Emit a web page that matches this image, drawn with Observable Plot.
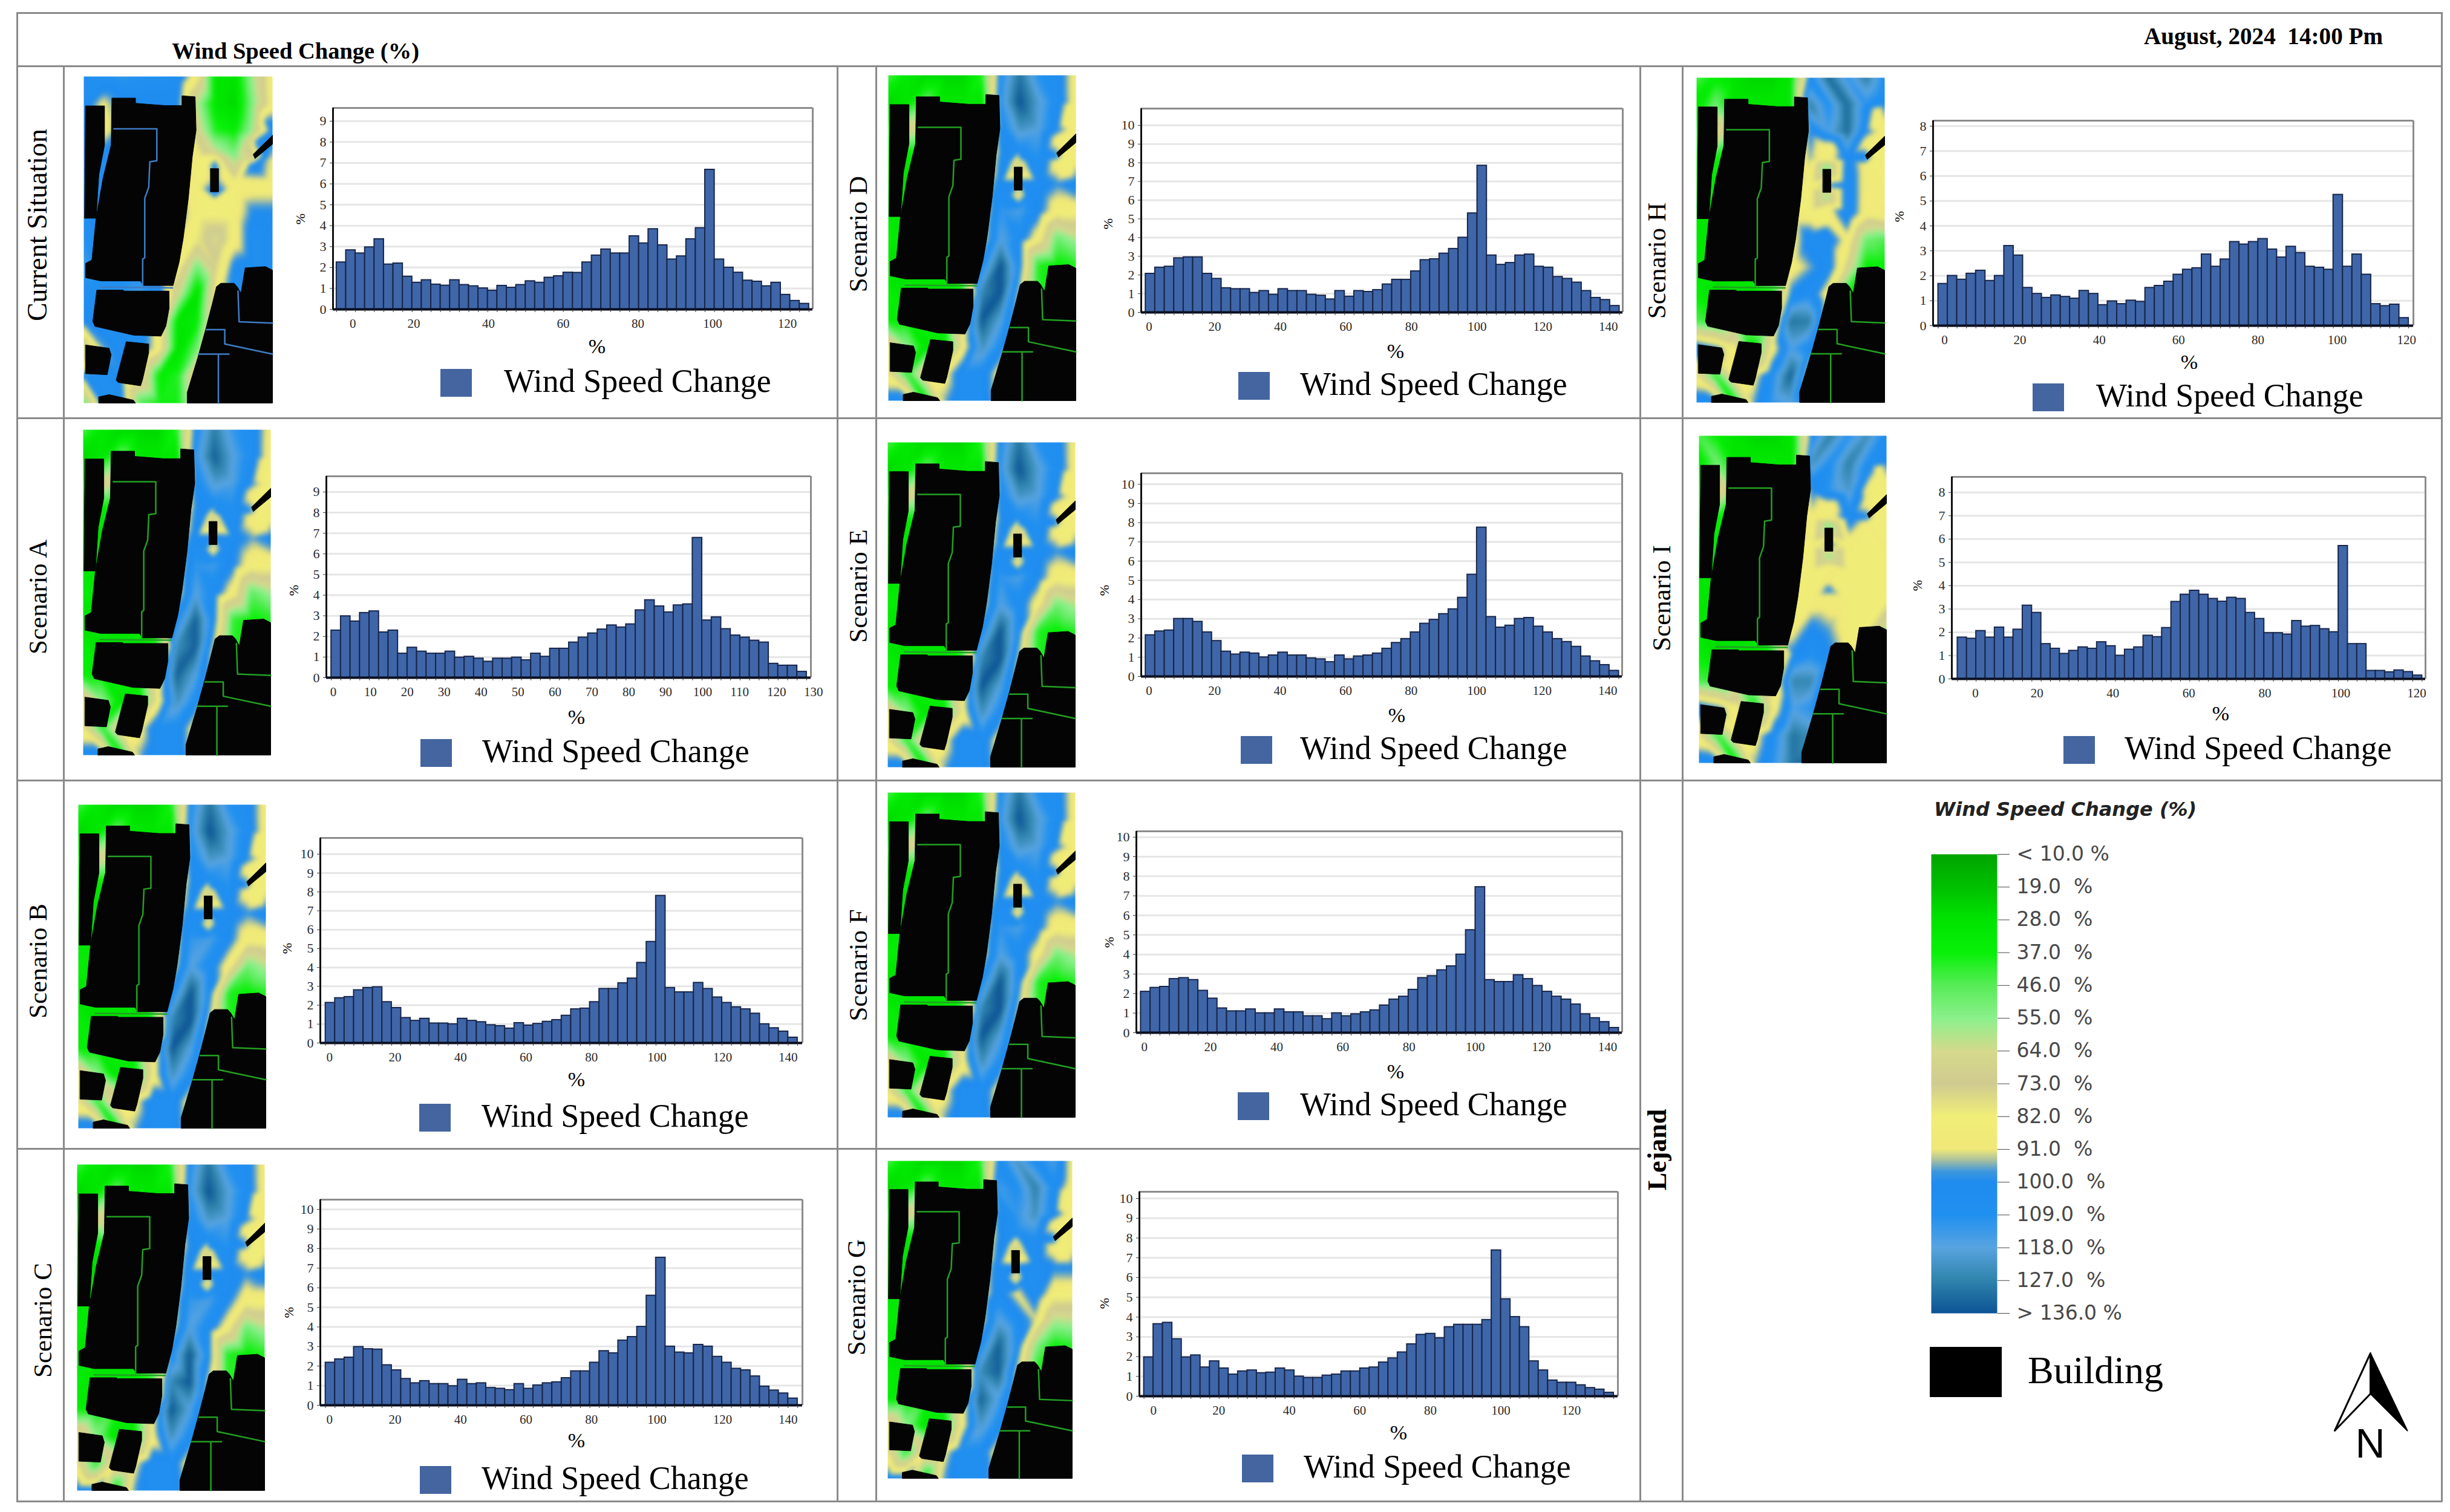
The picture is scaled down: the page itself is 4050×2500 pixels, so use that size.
<!DOCTYPE html>
<html><head><meta charset="utf-8">
<script src="https://cdn.jsdelivr.net/npm/d3@7"></script>
<script src="https://cdn.jsdelivr.net/npm/@observablehq/plot@0.6"></script>
<style>
html,body{margin:0;padding:0;background:#fff}
#page{position:relative;width:4050px;height:2500px;overflow:hidden;background:#fff;font-family:"Liberation Serif",serif;color:#000}
#page>svg{position:absolute;overflow:visible}
.h,.v,.sw,.t{position:absolute}
.h{height:3px;background:#8a8a8a}.v{width:3px;background:#8a8a8a}
.t{white-space:pre;line-height:1}
</style></head><body><div id="page"></div>
<script>
// ---------- histogram values (% of area per bin) ----------
const currentValues=[2.25,2.83,2.68,2.97,3.36,2.15,2.2,1.57,1.28,1.4,1.19,1.14,1.4,1.17,1.11,1.01,0.9,1.13,1.04,1.17,1.35,1.28,1.52,1.59,1.76,1.75,2.25,2.58,2.87,2.68,2.68,3.5,3.16,3.84,3.07,2.39,2.54,3.36,3.89,6.68,2.39,2.0,1.76,1.38,1.33,1.11,1.28,0.7,0.41,0.27];
const scenarioA=[2.29,2.98,2.73,3.14,3.22,2.2,2.29,1.17,1.46,1.27,1.17,1.17,1.27,0.98,1.02,0.93,0.78,0.93,0.93,0.98,0.85,1.17,1.02,1.41,1.41,1.71,1.95,2.15,2.34,2.54,2.44,2.59,3.27,3.76,3.46,3.17,3.51,3.56,6.78,2.78,2.93,2.36,2.05,1.95,1.8,1.71,0.68,0.59,0.59,0.29];
const scenarioB=[2.13,2.38,2.44,2.8,2.92,2.96,2.17,1.86,1.33,1.18,1.29,1.04,1.04,1.0,1.29,1.18,1.11,0.95,0.9,0.77,1.06,0.93,1.02,1.13,1.22,1.45,1.79,1.83,2.17,2.87,2.87,3.17,3.42,4.25,5.36,7.8,2.92,2.69,2.69,3.19,2.87,2.42,2.13,1.9,1.79,1.56,1.0,0.79,0.61,0.29];
const scenarioC=[2.18,2.35,2.44,2.98,2.87,2.85,2.05,1.79,1.35,1.13,1.24,1.09,1.09,0.98,1.31,1.09,1.13,0.89,0.85,0.78,1.09,0.85,1.02,1.13,1.18,1.39,1.74,1.74,2.18,2.77,2.66,3.31,3.49,4.01,5.6,7.54,3.0,2.7,2.66,3.09,3.0,2.48,2.18,1.87,1.79,1.48,0.96,0.76,0.61,0.35];
const scenarioD=[2.07,2.4,2.45,2.9,2.95,2.95,2.07,1.8,1.3,1.25,1.25,1.05,1.15,0.95,1.25,1.15,1.15,0.95,0.9,0.7,1.15,0.85,1.15,1.1,1.2,1.5,1.75,1.75,2.2,2.8,2.85,3.15,3.4,4.0,5.3,7.85,3.05,2.55,2.65,3.05,3.1,2.45,2.4,1.9,1.8,1.6,1.15,0.78,0.67,0.35];
const scenarioE=[2.15,2.35,2.4,3.0,3.0,2.85,2.3,1.85,1.3,1.15,1.25,1.2,1.0,1.1,1.25,1.1,1.1,0.95,0.9,0.75,1.1,0.9,1.05,1.1,1.2,1.45,1.75,1.95,2.3,2.75,2.95,3.25,3.5,4.1,5.3,7.75,3.1,2.55,2.65,3.0,3.05,2.6,2.3,1.95,1.8,1.55,1.05,0.8,0.6,0.3];
const scenarioF=[2.1,2.3,2.35,2.75,2.8,2.7,2.15,1.75,1.25,1.1,1.1,1.2,1.0,1.0,1.2,1.05,1.05,0.85,0.85,0.7,1.0,0.85,0.95,1.05,1.15,1.4,1.7,1.85,2.2,2.8,2.9,3.2,3.4,4.0,5.25,7.45,2.7,2.6,2.6,2.95,2.75,2.4,2.1,1.85,1.7,1.45,0.95,0.75,0.55,0.25];
const scenarioG=[1.97,3.65,3.72,2.89,1.97,2.07,1.46,1.77,1.41,1.1,1.26,1.31,1.17,1.2,1.41,1.31,1.0,0.93,0.93,1.05,1.1,1.26,1.26,1.41,1.46,1.71,1.92,2.22,2.63,3.11,3.16,2.94,3.5,3.62,3.62,3.62,3.86,7.38,4.91,4.01,3.5,1.77,1.31,0.8,0.69,0.69,0.56,0.42,0.34,0.18];
const scenarioH=[1.68,2.0,1.85,2.09,2.21,1.8,2.0,3.2,2.82,1.52,1.28,1.12,1.22,1.16,1.09,1.4,1.28,0.83,0.98,0.87,1.01,0.96,1.52,1.6,1.77,2.05,2.25,2.31,2.86,2.37,2.66,3.36,3.26,3.36,3.48,3.06,2.74,3.17,2.92,2.37,2.33,2.25,5.25,2.37,2.86,2.05,0.87,0.79,0.85,0.31];
const scenarioI=[1.78,1.73,2.06,1.78,2.21,1.78,2.12,3.15,2.84,1.5,1.3,1.08,1.21,1.36,1.3,1.58,1.41,1.0,1.26,1.36,1.86,1.8,2.19,3.31,3.62,3.79,3.62,3.44,3.32,3.49,3.44,2.84,2.58,1.97,1.97,1.91,2.49,2.25,2.28,2.14,2.01,5.71,1.5,1.5,0.35,0.35,0.29,0.37,0.3,0.15];

// ---------- x tick labels ----------
const ticks20=[0,20,40,60,80,100,120];
const ticks140=[0,20,40,60,80,100,120,140];
const ticks130=[0,10,20,30,40,50,60,70,80,90,100,110,120,130];

// ---------- colour scale of the wind maps ----------
const rampStops=[10,19,28,37,46,55,64,73,82,91,94,97,100,109,118,127,136];
const rampColors=["#00a400","#00c000","#00e400","#08f008","#58ec58","#8cf08c","#d6d98c","#cfcb90","#f0ee78","#f0e878","#a8c0a0","#3f98dc","#1f8cf0","#2090f0","#58a4e0","#2f84ac","#0c5496"];
const legendTicks=[10,19,28,37,46,55,64,73,82,91,100,109,118,127,136];
const legendLabels=["< 10.0 %","19.0  %","28.0  %","37.0  %","46.0  %","55.0  %","64.0  %","73.0  %","82.0  %","91.0  %","100.0  %","109.0  %","118.0  %","127.0  %","> 136.0 %"];

// ---------- wind fields: 11 columns x 13 rows of sampled wind speed change (%) ----------
const fieldCurrent=[
[105,110,112,110,108,106,84,30,28,60,86],
[105,90,100,100,100,100,60,30,25,55,85],
[105,86,100,100,100,100,70,40,35,60,105],
[105,105,100,100,100,100,85,85,55,70,90],
[105,105,105,105,105,95,86,100,84,86,86],
[105,105,105,105,105,100,85,84,86,100,100],
[110,105,105,105,100,92,80,65,86,106,105],
[115,105,105,105,100,84,50,75,102,106,105],
[105,105,110,115,105,65,28,84,105,106,106],
[100,105,105,105,86,30,35,85,105,105,105],
[60,95,105,105,86,28,50,95,105,105,105],
[100,108,100,84,35,40,84,100,105,105,105],
[45,105,105,45,38,38,75,100,105,105,105]];
const fieldBase=[
[45,32,25,25,25,40,108,130,110,105,86],
[25,30,50,30,30,30,112,136,120,106,86],
[40,70,60,40,40,60,104,122,118,100,86],
[30,30,40,40,40,72,100,108,110,100,87],
[30,25,30,30,40,84,104,105,106,98,104],
[30,30,30,30,40,84,112,116,102,85,86],
[35,30,30,30,50,86,118,105,86,50,60],
[28,30,30,30,60,105,136,105,40,35,40],
[35,28,28,28,40,126,136,92,40,40,40],
[35,35,40,40,84,136,118,86,40,40,40],
[84,55,30,30,84,124,106,85,40,40,40],
[80,40,84,87,108,106,86,40,40,40,40],
[105,105,30,95,108,106,90,40,40,40,40]];
const fieldA=[
[45,32,25,25,25,40,106,128,112,106,86],
[25,30,50,30,30,30,112,134,118,106,85],
[40,70,60,40,40,62,104,120,116,98,85],
[30,30,40,40,40,74,100,106,108,98,86],
[30,25,30,30,40,85,104,105,104,96,102],
[30,30,30,30,40,85,112,114,100,85,85],
[35,30,30,30,50,86,118,104,86,48,58],
[28,30,30,30,60,106,134,102,42,36,40],
[35,28,28,28,40,124,134,90,40,40,40],
[35,35,40,40,84,134,118,86,40,40,40],
[84,55,30,30,84,124,106,85,40,40,40],
[80,40,84,87,108,106,86,40,40,40,40],
[105,105,30,95,108,106,90,40,40,40,40]];
const fieldG=[
[45,32,25,25,25,40,105,122,106,116,86],
[25,30,50,30,30,30,114,108,128,106,85],
[40,70,60,40,40,62,102,112,124,104,85],
[30,30,40,40,40,72,100,88,108,102,87],
[30,25,30,30,40,84,104,100,108,100,100],
[30,30,30,30,40,85,104,90,106,85,85],
[35,30,30,30,50,86,118,106,92,60,62],
[28,30,30,30,60,105,134,108,55,36,40],
[35,28,28,28,40,124,134,92,40,40,40],
[35,35,40,40,84,134,116,86,40,40,40],
[84,55,30,30,84,122,106,85,40,40,40],
[80,40,84,87,108,106,86,40,40,40,40],
[105,105,30,95,108,106,90,40,40,40,40]];
const fieldH=[
[45,35,28,25,25,30,105,132,112,128,108],
[30,50,30,30,30,30,128,108,132,110,100],
[40,84,50,40,40,50,100,115,132,100,86],
[35,35,40,40,40,60,95,86,105,105,84],
[30,30,35,35,50,75,86,100,108,86,86],
[30,30,35,40,60,85,85,85,108,85,90],
[30,30,35,40,65,84,105,105,88,50,45],
[30,30,30,40,70,86,95,105,75,35,35],
[35,25,28,28,35,100,108,84,35,35,35],
[45,40,60,60,70,130,128,86,40,40,40],
[110,100,84,30,84,116,105,85,40,40,40],
[80,40,84,87,108,134,86,40,40,40,40],
[108,105,30,95,112,118,105,40,40,40,40]];
const fieldI=[
[45,35,28,25,25,30,105,128,110,124,105],
[30,50,30,30,30,30,124,108,128,108,100],
[40,84,50,40,40,55,100,112,122,86,85],
[35,35,40,40,40,65,90,86,105,100,85],
[30,30,35,35,60,85,85,100,86,85,86],
[30,30,35,40,70,85,85,90,85,85,85],
[30,30,35,40,75,86,85,85,85,85,84],
[30,30,30,40,84,86,100,95,85,84,60],
[35,25,28,28,40,100,108,100,84,45,45],
[45,40,60,60,75,126,126,86,50,40,40],
[110,100,84,35,84,116,110,85,40,40,40],
[80,40,84,87,108,130,124,86,40,40,40],
[108,105,30,95,112,130,134,100,40,40,40]];

// extra samples [x %, y %, wind speed change %] around the pillar and the diagonal building
const detailCurrent=[[69.3,27,105],[69.3,24.5,85],[69.3,22,60],[65,28,84],[73.5,28,84],[69.3,36,108],[69.3,38,85],[90,27,105],[96,24,105],[92,20,105],[97,14,100],[94,12,84],[88,21,75]];
const detailScenario=[[69.3,22.5,108],[65,26,105],[73.5,26,105],[69.3,25,86],[69.3,27.5,60],[69.3,36,60],[69.3,38,86],[69.3,40,106],[65,37,105],[73.5,37,105],[90,27,86],[94,30,86],[98,29,85],[95,24,85],[90,20,86],[94,14,86],[96,10,86],[92,10,100]];
const detailH=[[69.3,27.5,50],[69.3,25,86],[67,21,87],[72,21,87],[69.3,18,105],[69.3,36.5,55],[69.3,40,86],[66,44,85],[72,44,85],[69,47,100],[90,27,86],[94,30,86],[98,29,85],[95,24,85],[90,20,86],[94,14,86],[96,10,86],[92,10,100]];

// ---------- building footprints, in % of map width / height ----------
const buildings=[
[[1,9],[11,9],[11,21],[8,30],[6.5,43.4],[0.5,43.4]],
[[15,6.6],[27.4,6.6],[27.4,8.2],[43,8.9],[52,8.9],[52,5.9],[59,6.2],[59.5,16.4],[57.5,24.5],[55.4,37.3],[52.7,49.5],[50.5,56.9],[47.3,64],[31.7,64],[30,62.6],[9,62.6],[1,61.6],[1,57.2],[4.3,56.2],[6.5,43.4],[10.2,31.2],[14.5,21]],
[[7,65.4],[20.9,65.4],[21.5,65.7],[45.2,65.7],[45.2,71],[43.5,76.4],[40.9,79.5],[26.4,79.2],[5.9,76.5],[4.8,75.1]],
[[1,82.2],[13.4,83.2],[14.5,85.2],[12.4,91.3],[1,91]],
[[22.6,81.2],[34.4,81.9],[34.4,84.6],[31.2,92.7],[30.1,94.7],[18.3,93.7],[17.2,93]],
[[8,98.1],[13.4,97.4],[26.3,99.1],[27.4,100],[8,100]],
[[70.4,64.3],[72.6,63.3],[79.6,63.3],[81.2,64.3],[83.3,66.4],[85.5,58.6],[96.2,58.2],[100,59.3],[100,100],[54.8,100],[54.8,96.8],[60.8,85.3],[65,76.5],[68.3,69.1]],
[[89.8,23.8],[100,18],[100,20.7],[90.8,25.1]],
[[67.2,28.2],[71.4,28.2],[71.4,35.3],[67.2,35.3]]];
const buildingSeams=[
[[16,16],[38.7,16],[38.7,25.8],[35,26.1],[34.4,33.9],[32.3,37.3],[32.3,55.5],[31.2,55.9],[31.2,64]],
[[9,64.5],[47,64.7]],
[[81.7,65.7],[82.3,75.1],[100,75.5]],
[[65,77.5],[74.7,77.5],[74.7,81.9],[100,85]],
[[60.8,85],[76.9,85]],
[[71.3,85.3],[71.3,100]]];

// ---------- north arrow outline ----------
const arrowLeft=[[0,128],[59,0],[59,67]];
const arrowRight=[[59,0],[120,128],[59,67]];

// ---------- panels ----------
const panels=[
{name:"Current Situation",values:currentValues,field:fieldCurrent,detail:detailCurrent,seam:"#3f7cc4",binStart:-0.65,binWidth:2.529,xDomain:[-1.6,126.8],yMax:9.63,xLabels:ticks20,xLabelAt:[3.7,20,40,60,80,100,120],
 frame:[550,1343,178,511],map:[138,450,126,666],label:[62,372],labelSize:46,xTitle:[987,573],yTitle:[497,362],swatch:[728,610],legendX:833},
{name:"Scenario A",values:scenarioA,field:fieldA,detail:detailScenario,seam:"#22a022",binStart:-0.56,binWidth:2.574,xDomain:[-1.9,129.3],yMax:9.76,xLabels:ticks130,
 frame:[539,1340,787,1120],map:[137,447,710,1248],label:[62,987],xTitle:[953,1186],yTitle:[486,976],swatch:[695,1222],legendX:797},
{name:"Scenario B",values:scenarioB,field:fieldBase,detail:detailScenario,seam:"#22a022",binStart:-1.2,binWidth:2.882,xDomain:[-2.8,144.4],yMax:10.86,xLabels:ticks140,
 frame:[529,1326,1385,1724],map:[129,439,1330,1865],label:[62,1589],xTitle:[953,1785],yTitle:[475,1568],swatch:[693,1825],legendX:796},
{name:"Scenario C",values:scenarioC,field:fieldBase,detail:detailScenario,seam:"#22a022",binStart:-1.2,binWidth:2.882,xDomain:[-2.8,144.4],yMax:10.5,xLabels:ticks140,
 frame:[529,1326,1983,2323],map:[127,437,1925,2464],label:[70,2183],xTitle:[953,2382],yTitle:[478,2170],swatch:[694,2424],legendX:796},
{name:"Scenario D",values:scenarioD,field:fieldBase,detail:detailScenario,seam:"#22a022",binStart:-1.06,binWidth:2.889,xDomain:[-2.4,144.4],yMax:10.9,xLabels:ticks140,
 frame:[1886,2682,179,516],map:[1468,1778,124,662],label:[1418,387],xTitle:[2307,581],yTitle:[1832,370],swatch:[2047,615],legendX:2149},
{name:"Scenario E",values:scenarioE,field:fieldBase,detail:detailScenario,seam:"#22a022",binStart:-1.06,binWidth:2.889,xDomain:[-2.4,144.4],yMax:10.57,xLabels:ticks140,
 frame:[1886,2681,782,1118],map:[1467,1777,731,1268],label:[1418,969],xTitle:[2309,1183],yTitle:[1826,976],swatch:[2051,1217],legendX:2149},
{name:"Scenario F",values:scenarioF,field:fieldBase,detail:detailScenario,seam:"#22a022",binStart:-1.06,binWidth:2.889,xDomain:[-2.4,144.4],yMax:10.3,xLabels:ticks140,
 frame:[1878,2681,1374,1707],map:[1467,1777,1310,1847],label:[1418,1596],xTitle:[2307,1772],yTitle:[1834,1558],swatch:[2046,1806],legendX:2149},
{name:"Scenario G",values:scenarioG,field:fieldG,detail:detailScenario,seam:"#22a022",binStart:-1.2,binWidth:2.664,xDomain:[-2.5,133.2],yMax:10.34,xLabels:ticks20,xLabelAt:[1.5,20,40,60,80,100,120],
 frame:[1883,2674,1970,2308],map:[1467,1772,1919,2444],label:[1415,2145],xTitle:[2312,2369],yTitle:[1826,2155],swatch:[2053,2405],legendX:2155},
{name:"Scenario H",values:scenarioH,field:fieldH,detail:detailH,seam:"#22a022",binStart:-0.6,binWidth:2.372,xDomain:[-1.9,119.2],yMax:8.22,xLabels:ticks20,xLabelAt:[1,20,40,60,80,100,117.5],
 frame:[3195,3989,199,538],map:[2804,3115,128,665],label:[2738,431],xTitle:[3619,599],yTitle:[3140,358],swatch:[3360,634],legendX:3465},
{name:"Scenario I",values:scenarioI,field:fieldI,detail:detailH,seam:"#22a022",binStart:-0.9,binWidth:2.446,xDomain:[-2.4,122.3],yMax:8.67,xLabels:ticks20,xLabelAt:[3.8,20,40,60,80,100,120],
 frame:[3226,4009,788,1122],map:[2808,3118,720,1261],label:[2746,989],xTitle:[3671,1180],yTitle:[3170,968],swatch:[3411,1217],legendX:3512}];

const page=document.getElementById("page");
const place=(svg,l,t)=>{svg.style.left=l+"px";svg.style.top=t+"px";page.appendChild(svg);};
function line(cls,l,t,len){const d=document.createElement("div");d.className=cls;d.style.left=l+"px";d.style.top=t+"px";
  if(cls==="h")d.style.width=len+"px";else d.style.height=len+"px";page.appendChild(d);}
function text(str,x,y,size,o={}){const d=document.createElement("div");d.className="t";d.textContent=str;
  d.style.left=x+"px";d.style.top=y+"px";d.style.fontSize=size+"px";
  d.style.transform=o.transform||"translate(0,-50%)";
  if(o.weight)d.style.fontWeight=o.weight;if(o.style)d.style.fontStyle=o.style;if(o.family)d.style.fontFamily=o.family;
  if(o.color)d.style.color=o.color;if(o.spacing)d.style.letterSpacing=o.spacing;page.appendChild(d);}
function box(x,y,w,h,c){const d=document.createElement("div");d.className="sw";
  Object.assign(d.style,{left:x+"px",top:y+"px",width:w+"px",height:h+"px",background:c});page.appendChild(d);}

// ---------- table rules ----------
[[27,20,4010],[27,108,4010],[27,690,4010],[27,1289,4010],[27,1898,2685],[27,2481,4010]].forEach(([l,t,w])=>line("h",l,t,w));
[[27,20,2463],[104,108,2375],[1383,108,2375],[1447,108,2375],[2710,108,2375],[2780,108,2375],[4035,20,2463]].forEach(([l,t,h])=>line("v",l,t,h));

text("Wind Speed Change (%)",284,84,38.5,{weight:"bold"});
text("August, 2024  14:00 Pm",3544,60,39.2,{weight:"bold"});
text("Lejand",2740,1901,44,{weight:"bold",transform:"translate(-50%,-50%) rotate(-90deg)"});

// ---------- wind maps ----------
const colorScale={type:"linear",domain:rampStops,range:rampColors,clamp:true};
function drawMap(p){
  const [l,r,t,b]=p.map;
  const samples=[...p.field.flatMap((row,j)=>row.map((v,i)=>({x:i*10,y:j*100/12,v}))),...p.detail.map(([x,y,v])=>({x,y,v}))];
  const svg=Plot.plot({width:r-l,height:b-t,margin:0,
    x:{domain:[0,100],axis:null},y:{domain:[0,100],reverse:true,axis:null},color:colorScale,
    marks:[
      Plot.raster(samples,{x:"x",y:"y",fill:"v",interpolate:"barycentric",blur:3,pixelSize:1,x1:0,x2:100,y1:0,y2:100}),
      ...buildings.map(poly=>Plot.line(poly,{x:d=>d[0],y:d=>d[1],curve:"linear-closed",fill:"#040404",stroke:"#040404",strokeWidth:1})),
      ...buildingSeams.map(seam=>Plot.line(seam,{x:d=>d[0],y:d=>d[1],stroke:p.seam,strokeWidth:2.5}))
    ]});
  place(svg,l,t);
}

// ---------- histograms ----------
function drawHistogram(p){
  const [l,r,t,b]=p.frame, mL=50,mR=26,mT=10,mB=50;
  const bars=p.values.map((v,i)=>({x1:p.binStart+i*p.binWidth,x2:p.binStart+(i+1)*p.binWidth,v}));
  const edges=d3.range(p.values.length+1).map(i=>p.binStart+i*p.binWidth);
  const yTicks=d3.range(0,Math.floor(p.yMax)+1);
  const labelAt=p.xLabelAt||p.xLabels;
  const svg=Plot.plot({width:r-l+mL+mR,height:b-t+mT+mB,marginLeft:mL,marginRight:mR,marginTop:mT,marginBottom:mB,
    style:{fontFamily:"'Liberation Serif',serif",color:"#2a2a2a",background:"transparent"},
    x:{domain:p.xDomain,axis:null},y:{domain:[0,p.yMax],axis:null},
    marks:[
      Plot.ruleY(yTicks.slice(1),{stroke:"#e6e6e6",strokeWidth:3}),
      Plot.ruleY([p.yMax],{stroke:"#8c8c8c",strokeWidth:3}),
      Plot.ruleX([p.xDomain[1]],{stroke:"#8c8c8c",strokeWidth:3}),
      Plot.rect(bars,{x1:"x1",x2:"x2",y1:0,y2:"v",fill:"#3f66a8",stroke:"#18264a",strokeWidth:2}),
      Plot.ruleX([p.xDomain[0]],{stroke:"#111",strokeWidth:3}),
      Plot.ruleY([0],{stroke:"#0a0f20",strokeWidth:4}),
      Plot.axisX({ticks:edges,tickFormat:()=>"",tickSize:5,stroke:"#333",label:null}),
      Plot.axisX({ticks:labelAt,tickFormat:d=>p.xLabels[labelAt.indexOf(d)],tickSize:0,tickPadding:16,fontSize:21,label:null}),
      Plot.axisY({ticks:yTicks,tickFormat:d=>String(d),tickSize:5,tickPadding:6,fontSize:22,stroke:"#333",label:null})
    ]});
  place(svg,l-mL,t-mT);
  text("%",p.xTitle[0],p.xTitle[1],34,{transform:"translate(-50%,-50%)"});
  text("%",p.yTitle[0],p.yTitle[1],22,{transform:"translate(-50%,-50%) rotate(-90deg)"});
  box(p.swatch[0],p.swatch[1],52,46,"#44659f");
  text("Wind Speed Change",p.legendX,p.swatch[1]+20,54);
  text(p.name,p.label[0],p.label[1],p.labelSize||43,{transform:"translate(-50%,-50%) rotate(-90deg)"});
}
panels.forEach(p=>{drawMap(p);drawHistogram(p);});

// ---------- colour legend ----------
text("Wind Speed Change (%)",3197,1338,32,{weight:"bold",style:"italic",family:"'DejaVu Sans',sans-serif",color:"#222"});
const legendSvg=Plot.plot({width:109+260,height:759+40,marginLeft:0,marginRight:260,marginTop:20,marginBottom:20,
  style:{fontFamily:"'DejaVu Sans',sans-serif",background:"transparent"},
  x:{domain:[0,1],axis:null},y:{domain:[10,136],reverse:true,axis:null},color:colorScale,
  marks:[
    Plot.raster({fill:(x,y)=>y,x1:0,x2:1,y1:10,y2:136,width:4,height:760}),
    Plot.axisY({anchor:"right",ticks:legendTicks,tickFormat:d=>legendLabels[legendTicks.indexOf(d)],tickSize:20,tickPadding:12,fontSize:33,color:"#484848",label:null})
  ]});
place(legendSvg,3192,1392);
box(3190,2227,119,83,"#000");
text("Building",3352,2266,64);

// ---------- north arrow ----------
const arrowSvg=Plot.plot({width:124,height:132,margin:2,x:{domain:[0,120],axis:null},y:{domain:[0,128],reverse:true,axis:null},
  marks:[
    Plot.line(arrowLeft,{x:d=>d[0],y:d=>d[1],curve:"linear-closed",fill:"#fff",stroke:"#000",strokeWidth:3}),
    Plot.line(arrowRight,{x:d=>d[0],y:d=>d[1],curve:"linear-closed",fill:"#000",stroke:"#000",strokeWidth:2})
  ]});
place(arrowSvg,3857,2235);
text("N",3918,2386,68,{family:"'Liberation Sans',sans-serif",transform:"translate(-50%,-50%)"});
</script></body></html>
